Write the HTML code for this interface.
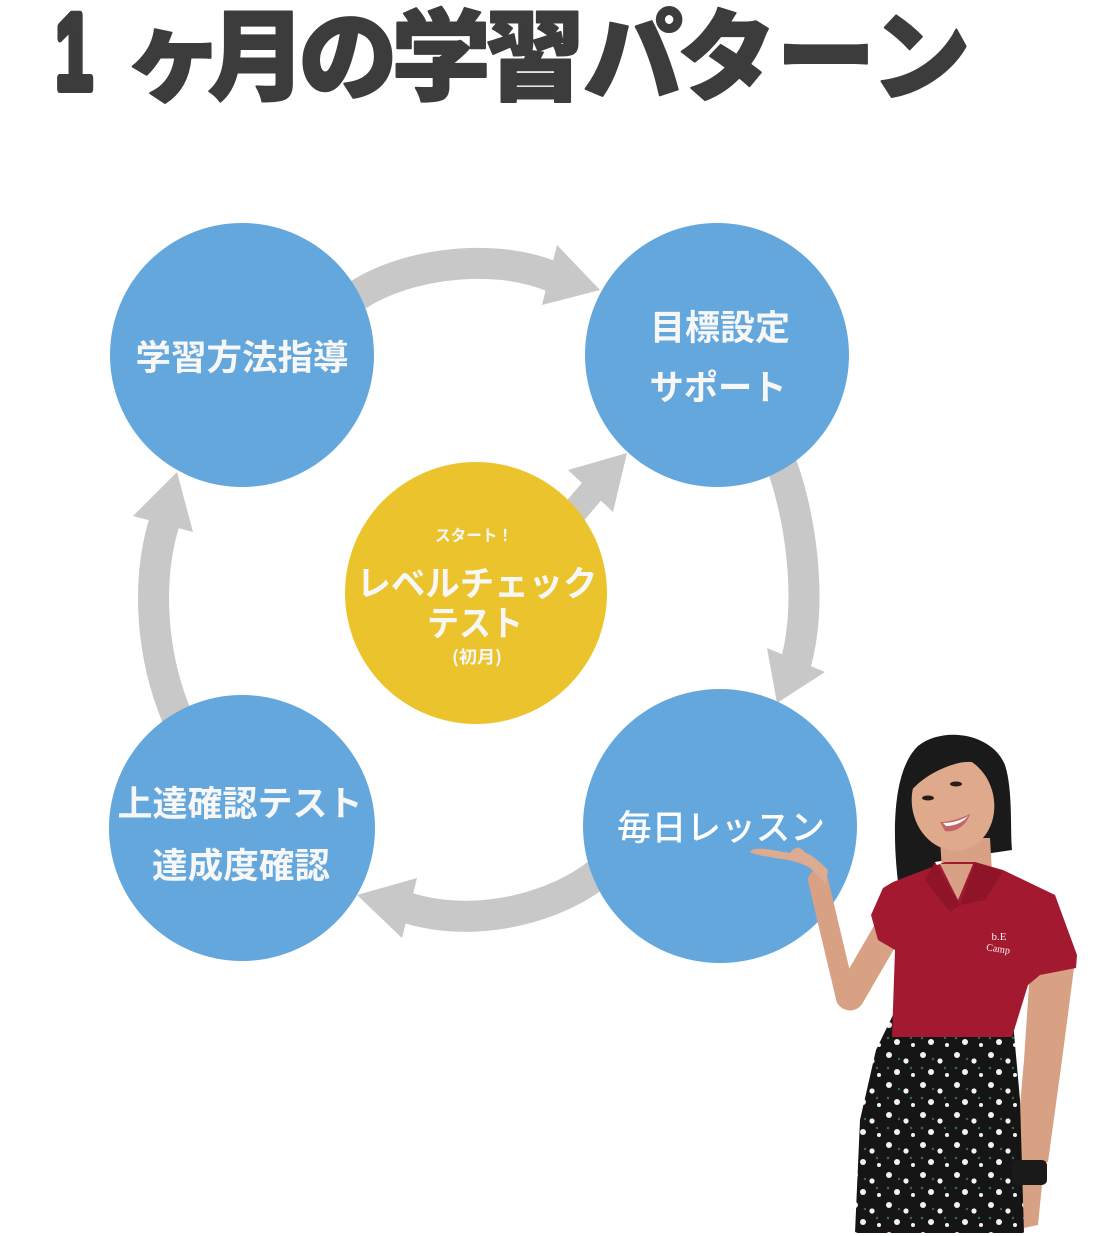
<!DOCTYPE html>
<html><head><meta charset="utf-8">
<style>
html,body{margin:0;padding:0;background:#fff;}
body{width:1115px;height:1236px;overflow:hidden;position:relative;}
svg{position:absolute;left:0;top:0;}
</style></head>
<body>
<svg width="1115" height="1236" viewBox="0 0 1115 1236" xmlns="http://www.w3.org/2000/svg">
<defs>
  <pattern id="flw" x="0" y="0" width="34" height="30" patternUnits="userSpaceOnUse">
    <rect width="34" height="30" fill="#151515"/>
    <circle cx="5" cy="5" r="3" fill="#f2f2f2"/>
    <circle cx="22" cy="11" r="2.6" fill="#f2f2f2"/>
    <circle cx="13" cy="22" r="3" fill="#f2f2f2"/>
    <circle cx="29" cy="25" r="2" fill="#f2f2f2"/>
    <circle cx="15" cy="9" r="1.2" fill="#2f6b4c"/>
    <circle cx="27" cy="18" r="1.2" fill="#2f6b4c"/>
    <circle cx="4" cy="18" r="1.3" fill="#2f6b4c"/>
  </pattern>
</defs>

<!-- Title -->
<g fill="#3b3c3b" stroke="#3b3c3b" stroke-linejoin="round" font-weight="900">
  <g transform="translate(74,0) scale(0.62,1)">
    <text x="0" y="89" font-size="108" stroke-width="8" text-anchor="middle" font-family="'Liberation Sans',sans-serif" font-weight="700">1</text>
  </g>
  <g font-size="99" text-anchor="middle" stroke-width="2" font-family="'Noto Sans CJK JP','Liberation Sans',sans-serif">
    <text x="174" y="92">ヶ</text>
    <text x="257" y="92">月</text>
    <text x="348" y="92">の</text>
    <text x="441" y="92">学</text>
    <text x="535" y="92">習</text>
    <text x="633" y="92">パ</text>
    <text x="727" y="92">タ</text>
    <text x="826" y="92">ー</text>
    <text x="921" y="92">ン</text>
  </g>
</g>

<!-- Arrows -->
<g fill="none" stroke="#c8c8c8" stroke-width="31">
  <path d="M345,305 C390,265 490,250 553,277"/>
  <path d="M182,728 C150,660 146,580 165,520"/>
  <path d="M778,455 C800,510 814,600 795,666"/>
  <path d="M600,872 C560,905 480,930 408,908"/>
  <path d="M520,575 L593,490" stroke-width="26"/>
</g>
<g fill="#c8c8c8">
  <polygon points="600,290 557,245 542,305"/>
  <polygon points="177,472 133,516 193,532"/>
  <polygon points="777,703 767,648 825,672"/>
  <polygon points="357,895 417,878 402,938"/>
  <polygon points="627,453 568,470 613,512"/>
</g>

<!-- Circles -->
<circle cx="242" cy="355" r="132" fill="#64a7dd"/>
<circle cx="717" cy="355" r="132" fill="#64a7dd"/>
<circle cx="242" cy="828" r="133" fill="#64a7dd"/>
<circle cx="720" cy="826" r="137" fill="#64a7dd"/>
<circle cx="476" cy="593" r="131" fill="#ebc42d"/>

<!-- Circle labels -->
<g fill="#f7f7f7" font-family="'Noto Sans CJK JP','Liberation Sans',sans-serif" font-weight="700" text-anchor="middle">
  <text x="242" y="370" font-size="35" textLength="213" lengthAdjust="spacingAndGlyphs">学習方法指導</text>
  <text x="720" y="340" font-size="35" textLength="140" lengthAdjust="spacingAndGlyphs">目標設定</text>
  <text x="718" y="400" font-size="35" textLength="137" lengthAdjust="spacingAndGlyphs">サポート</text>
  <text x="240" y="816" font-size="35" textLength="245" lengthAdjust="spacingAndGlyphs">上達確認テスト</text>
  <text x="241" y="878" font-size="35" textLength="178" lengthAdjust="spacingAndGlyphs">達成度確認</text>
  <text x="474" y="541" font-size="16" textLength="78" lengthAdjust="spacingAndGlyphs">スタート！</text>
  <text x="477" y="596" font-size="35" textLength="241" lengthAdjust="spacingAndGlyphs">レベルチェック</text>
  <text x="475" y="636" font-size="35" textLength="96" lengthAdjust="spacingAndGlyphs">テスト</text>
  <text x="477" y="663" font-size="17" textLength="50" lengthAdjust="spacingAndGlyphs">(初月)</text>
</g>
<text x="721" y="840" fill="#ffffff" font-family="'Noto Sans CJK JP','Liberation Sans',sans-serif" font-weight="500" font-size="35" text-anchor="middle" textLength="208" lengthAdjust="spacingAndGlyphs">毎日レッスン</text>

<!-- Woman -->
<g>
  <!-- hair back -->
  <path d="M898,882 C892,830 893,770 918,746 C943,726 992,733 1005,765 C1013,790 1010,830 1012,850 L985,854 L935,862 L925,886 Z" fill="#1b1a1a"/>
  <!-- neck -->
  <path d="M940,838 L990,838 L992,872 L942,872 Z" fill="#d8a084"/>
  <!-- face -->
  <ellipse cx="953" cy="803" rx="41" ry="48" transform="rotate(-12 953 803)" fill="#dfa98c"/>
  <!-- fringe -->
  <path d="M910,792 C911,760 940,740 968,742 C990,744 1003,760 1005,782 C995,765 975,758 955,764 C935,770 920,780 910,792 Z" fill="#1b1a1a"/>
  <!-- eyes, mouth -->
  <ellipse cx="928" cy="798" rx="6" ry="2.5" fill="#2a1c18"/>
  <ellipse cx="956" cy="784" rx="6" ry="2.5" fill="#2a1c18"/>
  <path d="M940,822 C950,822 962,818 970,814 C966,826 955,833 945,831 Z" fill="#c26566"/>
  <path d="M943,823 C952,823 962,820 968,816 C964,822 955,826 946,826 Z" fill="#fafafa"/>
  <!-- raised arm -->
  <path d="M886,934 L850,996" stroke="#d9a183" stroke-width="29" stroke-linecap="round" fill="none"/>
  <path d="M846,998 L818,880" stroke="#d9a183" stroke-width="20" stroke-linecap="round" fill="none"/>
  <path d="M826,884 L810,868 C800,862 790,860 775,858 C765,856 755,855 750,852 C752,848 762,848 772,850 L790,853 C792,850 796,847 800,848 L806,853 C812,855 820,862 828,870 Z" fill="#dcab90"/>
  <!-- other arm -->
  <path d="M1030,970 L1074,968 L1062,1060 L1048,1162 L1015,1162 L1024,1060 Z" fill="#d9a183"/>
  <path d="M1015,1185 L1042,1185 L1038,1225 L1005,1232 L995,1210 Z" fill="#d9a183"/>
  <!-- skirt -->
  <path d="M893,1015 L1013,1022 L1020,1100 L1024,1233 L855,1233 L860,1120 L876,1050 Z" fill="url(#flw)"/>
  <!-- watch -->
  <rect x="1012" y="1160" width="35" height="25" rx="5" fill="#1a1a1a"/>
  <!-- shirt -->
  <path d="M893,882 L945,862 L975,862 L1003,870 L1055,895 L1077,955 L1076,968 L1040,975 L1028,985 L1012,1037 L892,1037 L895,950 L878,940 L871,915 L883,888 Z" fill="#a31930"/>
  <path d="M940,864 L973,864 L958,900 Z" fill="#d8a084"/>
  <path d="M935,862 L960,905 L950,912 L925,880 Z" fill="#8f1428"/>
  <path d="M975,862 L1003,872 L985,900 L960,905 Z" fill="#8f1428"/>
  <text x="999" y="940" fill="#f4f4f4" font-family="'Liberation Serif',serif" font-size="11" text-anchor="middle">b.E</text>
  <text x="998" y="952" fill="#f4f4f4" font-family="'Liberation Serif',serif" font-size="10" text-anchor="middle" transform="rotate(8 998 950)">Camp</text>
</g>
</svg>
</body></html>
